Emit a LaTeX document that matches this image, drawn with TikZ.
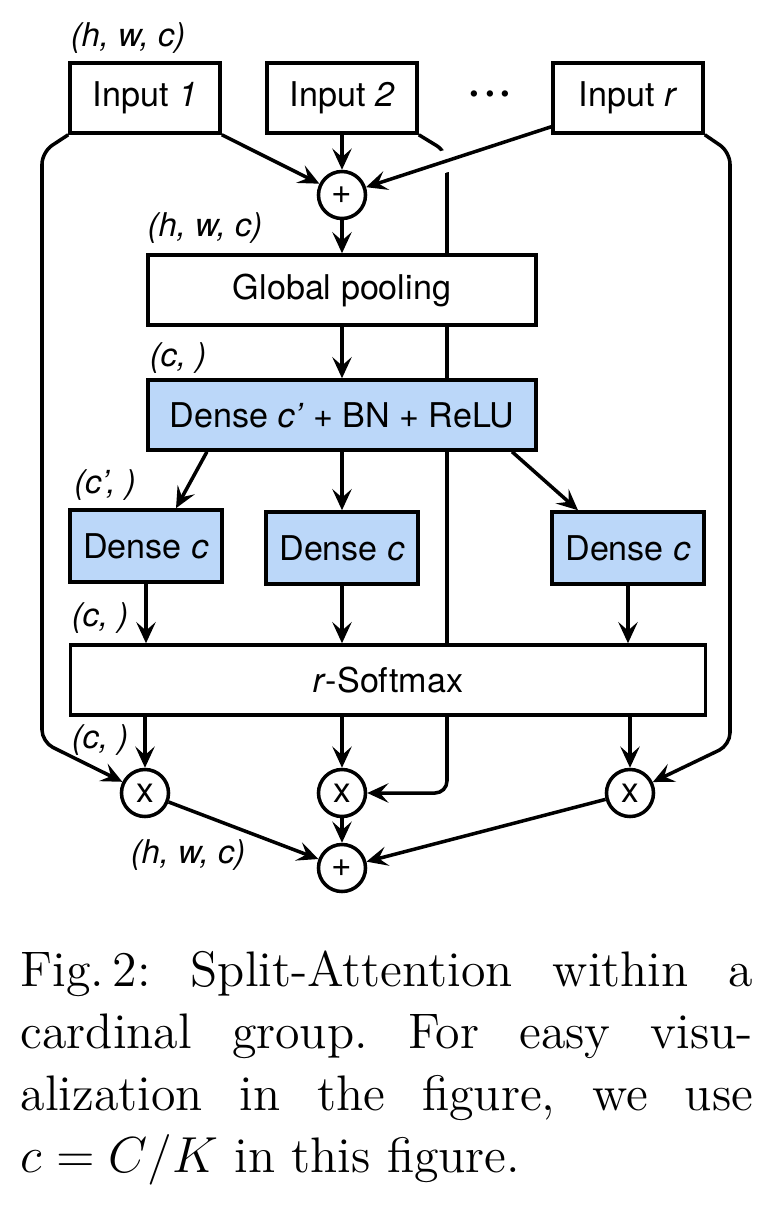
\documentclass[tikz,border=0pt]{standalone}
\usepackage{fontspec}
\newfontfamily\helv{TeX Gyre Heros}
\usepackage{tikz}
\usetikzlibrary{arrows.meta, backgrounds, calc}
\definecolor{bleuclair}{RGB}{187,215,249}
\tikzstyle{boite} = [
    rectangle,
    minimum height = 0.7cm,
    text centered,
    draw = black,
    fill = white,
    line width = 1pt,
    font = \helv\fontsize{9.7}{12}\selectfont,
]
\tikzstyle{bleue} = [boite, fill = bleuclair]
\tikzstyle{rond} = [
    circle,
    minimum size = 0.47cm,
    inner sep = 0pt,
    draw = black,
    fill = white,
    line width = 1pt,
    font = \helv\fontsize{10}{12}\selectfont,
]
\tikzstyle{forme} = [font = \helv\itshape\fontsize{9.3}{12}\selectfont]
\tikzstyle{fleche} = [-{Stealth[length = 6pt, width = 5.5pt, inset = 2.4pt]}, line width = 1pt]

\begin{document}
\begin{tikzpicture} [x = 0.01cm, y = -0.01cm]
    \useasboundingbox (0,0) rectangle (764,1220);

    % entrees
    \node (Taille1) [forme] at (128,38) {(h, w, c)};
    \node (Input1) [boite, minimum width = 1.5cm] at (145,98) {Input \textit{1}};
    \node (Input2) [boite, minimum width = 1.5cm] at (342,98) {Input \textit{2}};
    \node (Points) [font = \helv\bfseries\fontsize{12}{12}\selectfont] at (490,98) {·\kern1pt·\kern1pt·};
    \node (Inputr) [boite, minimum width = 1.5cm] at (628,98) {Input \textit{r}};

    \node (Somme1) [rond] at (342,195) {+};

    \node (Taille2) [forme] at (205,228) {(h, w, c)};
    \node (Pooling) [boite, minimum width = 3.88cm] at (342,290) {Global pooling};

    \node (Taille3) [forme] at (178,358) {(c, )};
    \node (DenseRelu) [bleue, minimum width = 3.88cm] at (342,415) {Dense \textit{c’} + BN + ReLU};

    \node (Taille4) [forme] at (105,485) {(c’, )};
    \node (Dense1) [bleue, minimum width = 1.52cm, minimum height = 0.72cm] at (146,546) {Dense \textit{c}};
    \node (Dense2) [bleue, minimum width = 1.52cm, minimum height = 0.72cm] at (342,548) {Dense \textit{c}};
    \node (Dense3) [bleue, minimum width = 1.52cm, minimum height = 0.72cm] at (628,548) {Dense \textit{c}};

    \node (Taille5) [forme] at (100,618) {(c, )};
    \node (Softmax) [boite, minimum width = 6.35cm] at (388,680) {\textit{r}-Softmax};

    \node (Taille6) [forme] at (100,740) {(c, )};
    \node (Produit1) [rond] at (145,793) {x};
    \node (Produit2) [rond] at (342,793) {x};
    \node (Produit3) [rond] at (630,793) {x};

    \node (Taille7) [forme] at (188,855) {(h, w, c)};
    \node (Somme2) [rond] at (342,868) {+};

    \coordinate (GaucheHaut) at (42,152);
    \coordinate (GaucheBas) at (42,742);
    \coordinate (DroiteHaut) at (730,152);
    \coordinate (DroiteBas) at (730,745);
    \coordinate (Coude) at (447,152);

    \begin{pgfonlayer}{background}
        \draw[fleche, rounded corners = 0.12cm] (Input2.south east) -- (Coude) -- (Coude |- Produit2.east) -- (Produit2.east);
        \draw[fleche, preaction = {draw = white, line width = 0.22cm}] ([yshift = 0.08cm]Inputr.south west) -- (Somme1);
    \end{pgfonlayer}

    \draw[fleche] (Input1.south east) -- (Somme1);
    \draw[fleche] (Input2) -- (Somme1);
    \draw[fleche] (Somme1) -- (Pooling);
    \draw[fleche] (Pooling) -- (DenseRelu);

    \draw[fleche] ([xshift = -1.35cm]DenseRelu.south) -- ([xshift = 0.3cm]Dense1.north);
    \draw[fleche] (DenseRelu.south) -- (Dense2.north);
    \draw[fleche] ([xshift = 1.7cm]DenseRelu.south) -- ([xshift = -0.5cm]Dense3.north);

    \draw[fleche] (Dense1.south) -- (Dense1.south |- Softmax.north);
    \draw[fleche] (Dense2.south) -- (Dense2.south |- Softmax.north);
    \draw[fleche] (Dense3.south) -- (Dense3.south |- Softmax.north);

    \draw[fleche] (Produit1 |- Softmax.south) -- (Produit1);
    \draw[fleche] (Produit2 |- Softmax.south) -- (Produit2);
    \draw[fleche] (Produit3 |- Softmax.south) -- (Produit3);

    \draw[fleche, rounded corners = 0.12cm] (Input1.south west) -- (GaucheHaut) -- (GaucheBas) -- (Produit1);
    \draw[fleche, rounded corners = 0.12cm] (Inputr.south east) -- (DroiteHaut) -- (DroiteBas) -- (Produit3);

    \draw[fleche] (Produit1) -- (Somme2);
    \draw[fleche] (Produit2) -- (Somme2);
    \draw[fleche] (Produit3) -- (Somme2);

    % legende
    \node (Legende) [anchor = north west, text width = 7.32cm, align = justify, inner sep = 0pt, font = \frenchspacing\fontsize{14.2}{17.6}\selectfont] at (20,950) {Fig.\,2: Split-Attention within a\linebreak cardinal group. For easy visu-\linebreak alization in the figure, we use\linebreak $c = C/K$ in this figure.};
\end{tikzpicture}
\end{document}
